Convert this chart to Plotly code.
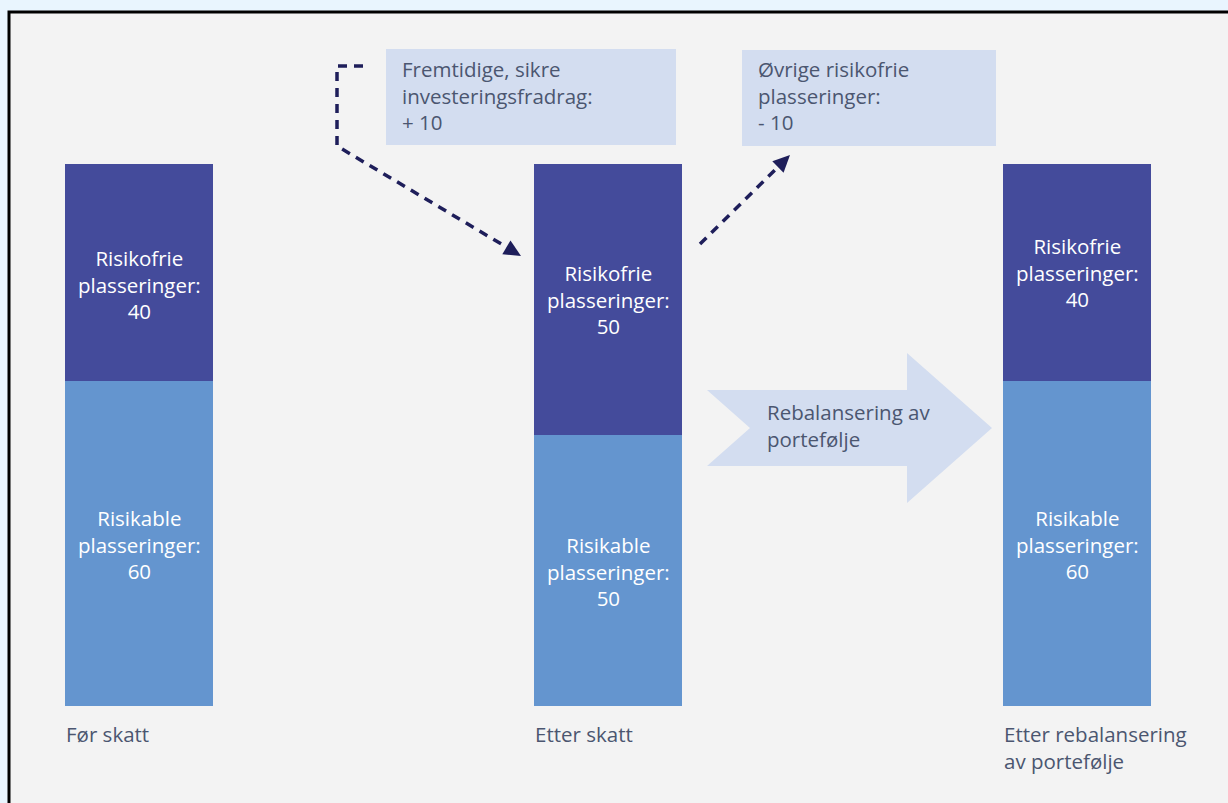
import plotly.graph_objects as go

# data
categories = ['Før skatt', 'Etter skatt', 'Etter rebalansering<br>av portefølje']
risikable = [60, 50, 60]
risikofrie = [40, 50, 40]
box_texts = ['Fremtidige, sikre<br>investeringsfradrag:<br>+ 10',
             'Øvrige risikofrie<br>plasseringer:<br>- 10']
arrow_text = 'Rebalansering av<br>portefølje'

W, H = 1228, 803
DARK = '#444b9b'
LIGHT = '#6495cf'
BOX = '#d3ddf0'
NAVY = '#1e1e5a'
TEXT = '#4b5670'
FONT = 'Open Sans'
FS = 20.5

# pixel layout of the value axes
X0_PX, X_STEP = 139, 469          # centre of first bar, distance between bars
Y0_PX, Y_SCALE = 706, 5.42        # baseline pixel, pixels per unit
BAR_W = 148 / X_STEP


def px(x):
    return x / W


def py(y):
    return 1 - y / H


def label(txt, x, y, xref, yref, color, xanchor='center', yanchor='middle',
          yshift=0):
    return dict(x=x, y=y, xref=xref, yref=yref, xanchor=xanchor,
                yanchor=yanchor, align=xanchor if xanchor != 'center' else 'center',
                showarrow=False, text=txt, borderpad=0, yshift=yshift,
                font=dict(color=color, size=FS, family=FONT))


fig = go.Figure()
x = list(range(len(categories)))
fig.add_trace(go.Bar(x=x, y=risikable, width=BAR_W, marker_color=LIGHT,
                     marker_line_width=0, hoverinfo='skip'))
fig.add_trace(go.Bar(x=x, y=risikofrie, width=BAR_W, marker_color=DARK,
                     marker_line_width=0, hoverinfo='skip'))

annotations = []
shift_dark = [-12, 0, 0]
for i in x:
    annotations.append(label(
        f'Risikable<br>plasseringer:<br>{risikable[i]}',
        i, risikable[i] / 2, 'x', 'y', 'white', yshift=-1))
    annotations.append(label(
        f'Risikofrie<br>plasseringer:<br>{risikofrie[i]}',
        i, risikable[i] + risikofrie[i] / 2, 'x', 'y', 'white',
        yshift=shift_dark[i]))
    annotations.append(label(
        categories[i], i - BAR_W / 2, 0, 'x', 'y', TEXT, xanchor='left',
        yanchor='top', yshift=-13))

# text boxes
for (x_px, y_px), txt in zip([(401, 95), (757, 95)], box_texts):
    annotations.append(label(txt, px(x_px), py(y_px), 'paper', 'paper',
                             TEXT, xanchor='left'))
annotations.append(label(arrow_text, px(766), py(425), 'paper', 'paper',
                         TEXT, xanchor='left'))


def path(points, close=False):
    s = 'M ' + ' L '.join(f'{px(a)},{py(b)}' for a, b in points)
    return s + (' Z' if close else '')


def head(tip, frm, length=17, half=8):
    dx, dy = tip[0] - frm[0], tip[1] - frm[1]
    n = (dx ** 2 + dy ** 2) ** 0.5
    ux, uy = dx / n, dy / n
    bx, by = tip[0] - ux * length, tip[1] - uy * length
    return path([tip, (bx - uy * half, by + ux * half),
                 (bx + uy * half, by - ux * half)], close=True)


shapes = [
    # frame
    dict(type='rect', xref='paper', yref='paper', x0=px(9), y0=py(12),
         x1=px(1250), y1=py(830), fillcolor='#f3f3f3',
         line=dict(color='black', width=3), layer='below'),
    # boxes
    dict(type='rect', xref='paper', yref='paper', x0=px(386), x1=px(676),
         y0=py(49), y1=py(145), fillcolor=BOX, line_width=0, layer='below'),
    dict(type='rect', xref='paper', yref='paper', x0=px(742), x1=px(996),
         y0=py(50), y1=py(146), fillcolor=BOX, line_width=0, layer='below'),
    # big arrow
    dict(type='path', xref='paper', yref='paper', fillcolor=BOX, line_width=0,
         layer='below',
         path=path([(707, 390), (907, 390), (907, 353), (992, 428),
                    (907, 503), (907, 466), (707, 466), (750, 428)], True)),
    # dashed arrows
    dict(type='path', xref='paper', yref='paper',
         line=dict(color=NAVY, width=3.5, dash='9px,7px'),
         path=path([(363, 66), (337, 66), (337, 146), (508, 248)])),
    dict(type='path', xref='paper', yref='paper', fillcolor=NAVY,
         line_width=0, path=head((521, 256), (337, 146))),
    dict(type='path', xref='paper', yref='paper',
         line=dict(color=NAVY, width=3.5, dash='9px,7px'),
         path=path([(700, 244), (779, 166)])),
    dict(type='path', xref='paper', yref='paper', fillcolor=NAVY,
         line_width=0, path=head((790, 155), (700, 244))),
]

fig.update_layout(
    width=W, height=H, margin=dict(l=0, r=0, t=0, b=0),
    barmode='stack', showlegend=False,
    paper_bgcolor='#e9f5fe', plot_bgcolor='rgba(0,0,0,0)',
    xaxis=dict(range=[-X0_PX / X_STEP, (W - X0_PX) / X_STEP], visible=False,
               fixedrange=True),
    yaxis=dict(range=[(Y0_PX - H) / Y_SCALE, Y0_PX / Y_SCALE], visible=False,
               fixedrange=True),
    annotations=annotations, shapes=shapes,
)

fig.write_html('out.html', config={'displayModeBar': False},
               post_script="document.body.style.margin='0';"
                           "document.body.style.overflow='hidden';")
